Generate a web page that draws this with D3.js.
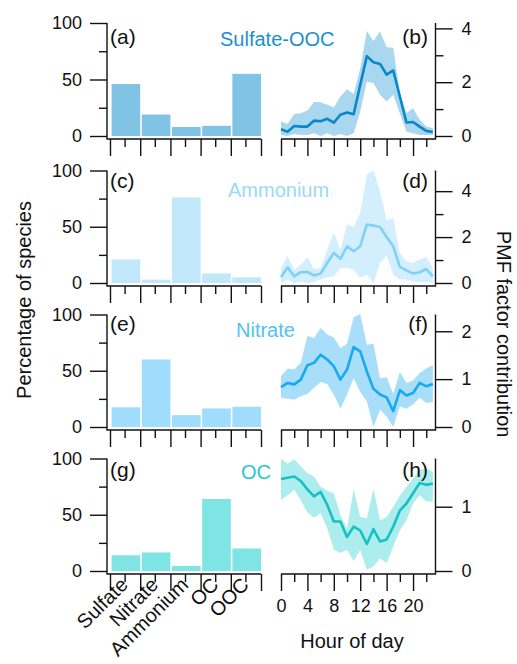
<!DOCTYPE html>
<html>
<head>
<meta charset="utf-8">
<script src="https://cdn.jsdelivr.net/npm/d3@7"></script>
<style>
  body { margin: 0; background: #fff; }
  text { font-family: "Liberation Sans", Arial, sans-serif; fill: #111; }
</style>
</head>
<body>
<svg id="chart" width="517" height="664"></svg>
<script>
// species shares (%) for each factor profile
const species = ["Sulfate", "Nitrate", "Ammonium", "OC", "OOC"];
const pctSulfateOOC = [46, 19, 8, 9, 55];
const pctAmmonium = [21, 3, 76, 8.5, 5];
const pctNitrate = [17.5, 60, 10.5, 16.5, 18];
const pctOC = [14, 16.5, 4.5, 64, 20];

// diurnal PMF factor contribution, hour 0..23
const hours = [0, 1, 2, 3, 4, 5, 6, 7, 8, 9, 10, 11, 12, 13, 14, 15, 16, 17, 18, 19, 20, 21, 22, 23];
const sulfMean = [0.25, 0.16, 0.37, 0.35, 0.35, 0.57, 0.55, 0.64, 0.5, 0.79, 0.87, 0.81, 1.9, 2.97, 2.74, 2.68, 2.28, 2.44, 1.47, 0.5, 0.52, 0.35, 0.19, 0.15];
const sulfHi = [0.54, 0.45, 0.82, 0.85, 0.95, 1.26, 1.25, 1.16, 1.06, 1.47, 1.74, 1.56, 2.5, 3.9, 3.53, 3.88, 3.3, 3.28, 1.6, 0.85, 1.03, 0.6, 0.35, 0.29];
const sulfLo = [0.04, 0, 0.07, 0.04, 0.04, 0.1, 0, 0.1, 0, 0.07, 0, 0.1, 0.9, 2.03, 1.97, 1.53, 1.28, 1.53, 0.85, 0.16, 0.1, 0.04, 0.04, 0.04];

const ammMean = [0.25, 0.68, 0.29, 0.47, 0.48, 0.33, 0.41, 0.87, 1.31, 1.05, 1.6, 1.38, 1.6, 2.55, 2.5, 2.44, 2.0, 1.6, 0.7, 0.55, 0.41, 0.47, 0.61, 0.29];
const ammHi = [0.65, 1.19, 0.58, 0.8, 1.12, 0.61, 0.65, 1.45, 2.21, 1.45, 2.55, 2.44, 3.05, 4.73, 4.9, 4.0, 2.73, 2.84, 1.31, 0.95, 0.87, 1.02, 1.13, 0.65];
const ammLo = [0, 0.15, 0, 0.07, 0, 0.03, 0.15, 0.25, 0.29, 0.65, 0.65, 0.58, 0.22, 0.36, 0, 0.87, 1.19, 0.36, 0.15, 0.15, 0.07, 0.03, 0.07, 0];

const nitMean = [0.83, 0.92, 0.89, 0.99, 1.29, 1.34, 1.51, 1.41, 1.27, 0.99, 1.2, 1.67, 1.58, 1.16, 0.8, 0.68, 0.62, 0.33, 0.77, 0.66, 0.71, 0.92, 0.85, 0.9];
const nitHi = [1.06, 1.22, 1.2, 1.34, 1.9, 1.86, 2.07, 1.93, 1.87, 1.65, 1.74, 2.29, 2.36, 1.72, 1.74, 1.02, 1.04, 0.69, 1.15, 0.92, 0.97, 1.13, 1.22, 1.29];
const nitLo = [0.61, 0.59, 0.57, 0.64, 0.69, 0.82, 0.94, 0.9, 0.68, 0.38, 0.68, 1.02, 0.73, 0.54, 0, 0.36, 0.22, 0, 0.43, 0.38, 0.47, 0.61, 0.5, 0.52];

const ocMean = [1.43, 1.45, 1.47, 1.4, 1.27, 1.16, 1.23, 1.03, 0.77, 0.77, 0.53, 0.69, 0.63, 0.42, 0.65, 0.46, 0.49, 0.69, 0.94, 1.05, 1.21, 1.37, 1.34, 1.36];
const ocHi = [1.75, 1.67, 1.74, 1.63, 1.52, 1.47, 1.31, 1.25, 1.21, 0.87, 0.66, 1.27, 0.84, 0.82, 1.28, 0.79, 0.84, 1.0, 1.17, 1.31, 1.44, 1.57, 1.6, 1.54];
const ocLo = [1.1, 1.18, 1.26, 1.1, 0.91, 0.83, 0.9, 0.66, 0.33, 0.28, 0.33, 0.15, 0.33, 0.02, 0.07, 0.2, 0.12, 0.38, 0.63, 0.79, 1.05, 1.18, 1.08, 1.08];

const pctTicks = [0, 50, 100];
const pctMinor = [25, 75];
const hourTicks = [0, 4, 8, 12, 16, 20];
const hourMinor = [2, 6, 10, 14, 18, 22];

const panels = [
  { name: "Sulfate-OOC", pct: pctSulfateOOC, mean: sulfMean, hi: sulfHi, lo: sulfLo,
    yMax: 4.2, ticks: [0, 2, 4], minor: [1, 3], letters: ["(a)", "(b)"] },
  { name: "Ammonium", pct: pctAmmonium, mean: ammMean, hi: ammHi, lo: ammLo,
    yMax: 4.9, ticks: [0, 2, 4], minor: [1, 3], letters: ["(c)", "(d)"] },
  { name: "Nitrate", pct: pctNitrate, mean: nitMean, hi: nitHi, lo: nitLo,
    yMax: 2.35, ticks: [0, 1, 2], minor: [], letters: ["(e)", "(f)"] },
  { name: "OC", pct: pctOC, mean: ocMean, hi: ocHi, lo: ocLo,
    yMax: 1.75, ticks: [0, 1], minor: [], letters: ["(g)", "(h)"] }
];

// layout + colours, one entry per row
const layout = [
  { top: 23, bottom: 136, titleX: 220, titleY: 46, letterY: 44,
    bar: "#80c3e5", line: "#0a87c8", band: "#a9d7ef", title: "#1b8fd0" },
  { top: 170.5, bottom: 283, titleX: 228, titleY: 197, letterY: 188,
    bar: "#c1e7fb", line: "#80d0f7", band: "#d3effd", title: "#9ad9f9" },
  { top: 314.5, bottom: 427, titleX: 236, titleY: 337, letterY: 331,
    bar: "#a0dcfb", line: "#17aaf0", band: "#a8defa", title: "#52c2f6" },
  { top: 458.5, bottom: 571, titleX: 241, titleY: 479, letterY: 477,
    bar: "#7ee4e4", line: "#14c2c4", band: "#aeeded", title: "#1fcaca" }
];

const svg = d3.select("#chart");
const leftRange = [110, 261], axisLeftX = 107;
const rightRange = [281, 435.5];
const majorLen = 17, minorLen = 8, axisGap = 3;

const xBand = d3.scaleBand().domain(species).range(leftRange).padding(0);
const xEdge = d3.scaleLinear().domain([0, species.length]).range(leftRange);
const xHour = d3.scaleLinear().domain([0, 23.4]).range(rightRange);

function styleAxis(g) {
  g.select(".domain").remove();
  g.selectAll(".tick line").attr("stroke", "#111").attr("stroke-width", 1.4);
  g.selectAll(".tick text").attr("font-size", 18).attr("fill", "#111")
    .attr("font-family", "'Liberation Sans', Arial, sans-serif");
}

panels.forEach((p, i) => {
  const L = layout[i];
  const last = i === panels.length - 1;
  const axisY = L.bottom + axisGap;
  const yPct = d3.scaleLinear().domain([0, 100]).range([L.bottom, L.top]);
  const yPmf = d3.scaleLinear().domain([0, p.yMax]).range([L.bottom, L.top]);

  // ---- left: species bars
  svg.append("g").selectAll("rect")
    .data(species)
    .join("rect")
    .attr("x", d => xBand(d) + 1.6)
    .attr("width", xBand.bandwidth() - 1.6)
    .attr("y", (d, k) => yPct(p.pct[k]))
    .attr("height", (d, k) => L.bottom - yPct(p.pct[k]))
    .attr("fill", L.bar);

  svg.append("g").attr("transform", `translate(${axisLeftX},0)`)
    .call(d3.axisLeft(yPct).tickValues(pctTicks).tickSize(majorLen).tickPadding(8))
    .call(styleAxis);
  svg.append("g").attr("transform", `translate(${axisLeftX},0)`)
    .call(d3.axisLeft(yPct).tickValues(pctMinor).tickSize(minorLen).tickFormat(""))
    .call(styleAxis);

  svg.append("g").attr("transform", `translate(0,${axisY})`)
    .call(d3.axisBottom(xEdge).tickValues(d3.range(species.length + 1)).tickSize(majorLen).tickFormat(""))
    .call(styleAxis);
  svg.append("g").attr("transform", `translate(0,${axisY})`)
    .call(d3.axisBottom(xBand).tickSize(minorLen).tickFormat(""))
    .call(styleAxis);

  svg.append("path")
    .attr("d", `M${axisLeftX},${L.top}V${axisY}H${leftRange[1]}`)
    .attr("fill", "none").attr("stroke", "#111").attr("stroke-width", 1.4);

  if (last) {
    svg.append("g").selectAll("text")
      .data(species)
      .join("text")
      .attr("transform", d => `translate(${xBand(d) + xBand.bandwidth() / 2 + 4},${axisY + 12}) rotate(-45)`)
      .attr("text-anchor", "end")
      .attr("font-size", 20)
      .text(d => d);
  }

  // ---- right: diurnal profile
  const area = d3.area()
    .x((d, k) => xHour(hours[k]))
    .y0((d, k) => yPmf(p.lo[k]))
    .y1((d, k) => yPmf(p.hi[k]));
  const line = d3.line()
    .x((d, k) => xHour(hours[k]))
    .y(d => yPmf(d));

  svg.append("path").datum(p.mean).attr("d", area).attr("fill", L.band);
  svg.append("path").datum(p.mean).attr("d", line)
    .attr("fill", "none").attr("stroke", L.line).attr("stroke-width", 2.6)
    .attr("stroke-linejoin", "round");

  svg.append("g").attr("transform", `translate(${rightRange[1]},0)`)
    .call(d3.axisRight(yPmf).tickValues(p.ticks).tickSize(majorLen).tickPadding(9).tickFormat(d3.format("d")))
    .call(styleAxis);
  if (p.minor.length) {
    svg.append("g").attr("transform", `translate(${rightRange[1]},0)`)
      .call(d3.axisRight(yPmf).tickValues(p.minor).tickSize(minorLen).tickFormat(""))
      .call(styleAxis);
  }

  svg.append("g").attr("transform", `translate(0,${axisY})`)
    .call(d3.axisBottom(xHour).tickValues(hourTicks).tickSize(majorLen).tickPadding(8)
      .tickFormat(last ? d3.format("d") : ""))
    .call(styleAxis);
  svg.append("g").attr("transform", `translate(0,${axisY})`)
    .call(d3.axisBottom(xHour).tickValues(hourMinor).tickSize(minorLen).tickFormat(""))
    .call(styleAxis);

  svg.append("path")
    .attr("d", `M${rightRange[0]},${axisY}H${rightRange[1]}V${L.top}`)
    .attr("fill", "none").attr("stroke", "#111").attr("stroke-width", 1.4);

  // ---- labels
  svg.append("text").attr("x", 110).attr("y", L.letterY)
    .attr("font-size", 21).text(p.letters[0]);
  svg.append("text").attr("x", 428).attr("y", L.letterY)
    .attr("font-size", 21).attr("text-anchor", "end").text(p.letters[1]);
  svg.append("text").attr("x", L.titleX).attr("y", L.titleY)
    .attr("font-size", 20).style("fill", L.title).text(p.name);
});

svg.append("text")
  .attr("transform", "translate(31,300) rotate(-90)")
  .attr("text-anchor", "middle").attr("font-size", 20)
  .text("Percentage of species");
svg.append("text")
  .attr("transform", "translate(497,334) rotate(90)")
  .attr("text-anchor", "middle").attr("font-size", 20)
  .text("PMF factor contribution");
svg.append("text")
  .attr("x", 352).attr("y", 648)
  .attr("text-anchor", "middle").attr("font-size", 20)
  .text("Hour of day");
</script>
</body>
</html>
